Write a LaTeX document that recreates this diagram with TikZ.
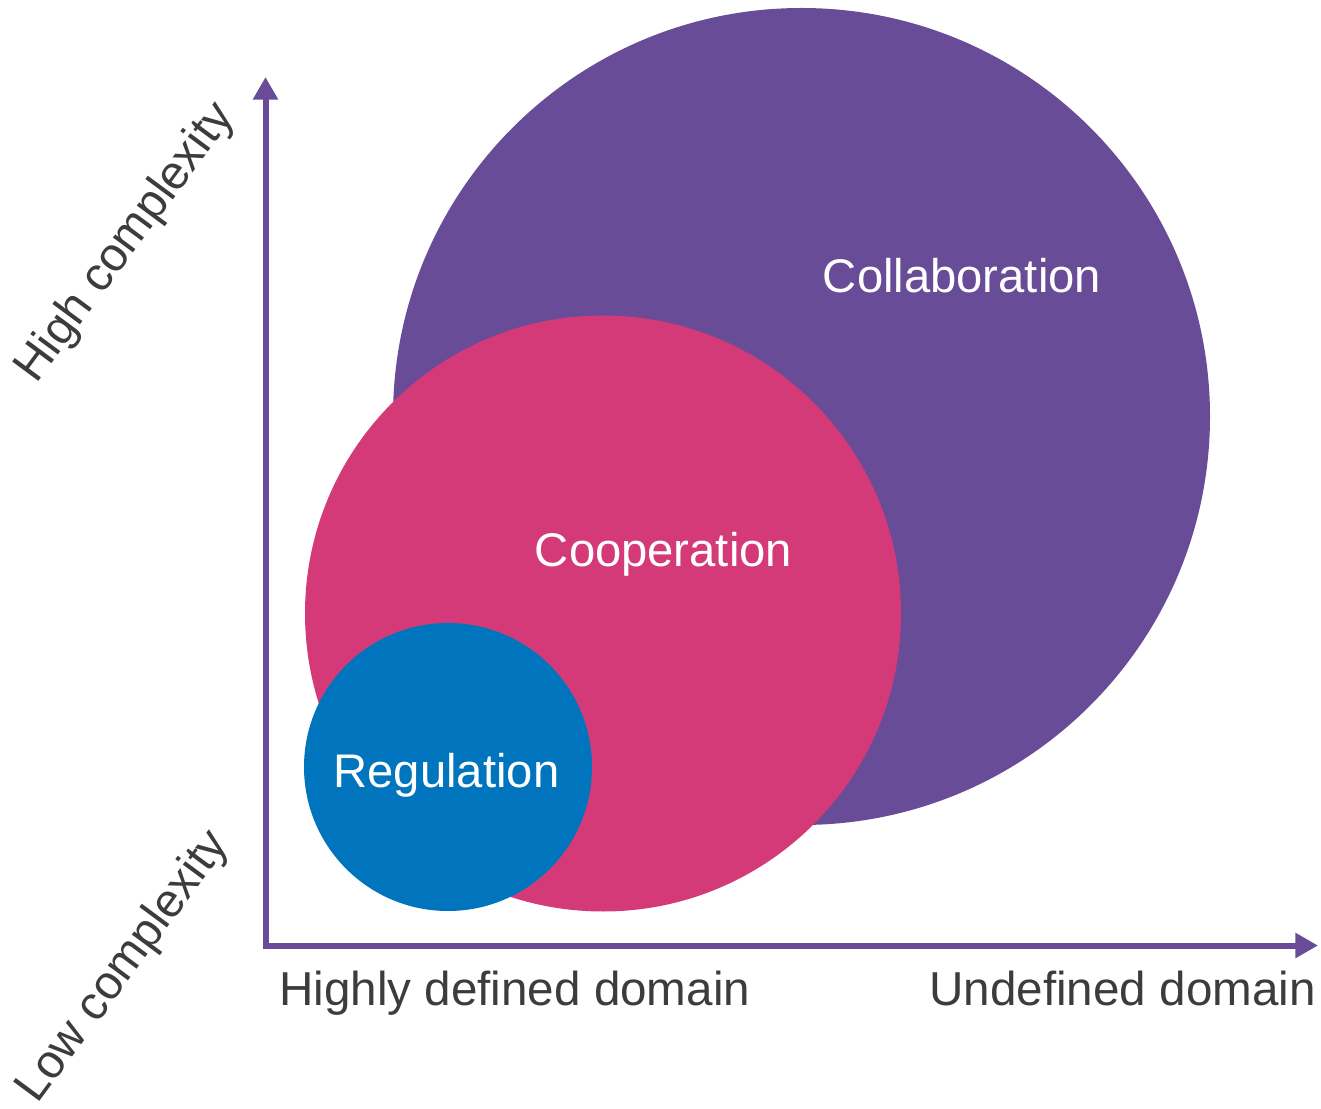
\documentclass[tikz,border=0pt]{standalone}
\usepackage{fontspec}
\setmainfont{Liberation Sans}
\usetikzlibrary{arrows.meta}

\definecolor{collabpurple}{RGB}{105,76,152}
\definecolor{cooppink}{RGB}{212,58,120}
\definecolor{regblue}{RGB}{0,117,189}
\definecolor{labelgray}{RGB}{60,60,60}

\begin{document}
\begin{tikzpicture}[x=0.75pt, y=0.75pt,
        bubble/.style={circle, inner sep=0pt, draw=none},
        bubblelabel/.style={text=white, inner sep=0pt, anchor=base, font=\fontsize{35.4pt}{40pt}\selectfont},
        axislabel/.style={text=labelgray, inner sep=0pt, font=\fontsize{35.7pt}{40pt}\selectfont},
        axisline/.style={collabpurple, line width=4.5pt, line join=miter,
            {Triangle[length=17pt,width=18pt]}-{Triangle[length=17pt,width=18pt]}}]
            % frame
            \useasboundingbox (0,0) rectangle (1321,1108);

            % circles
            \node[bubble, fill=collabpurple, minimum size=612.75pt] (collab) at (801.5,691.5) {};
            \node[bubble, fill=cooppink, minimum size=447pt] (coop) at (603,494.5) {};
            \node[bubble, fill=regblue, minimum size=216pt] (reg) at (448,341) {};

            % circle labels
            \node[bubblelabel] (collabtext) at (962,815) {Collaboration};
            \node[bubblelabel] (cooptext) at (663.5,541) {Cooperation};
            \node[bubblelabel] (regtext) at (446.5,321) {Regulation};

            % axis
            \coordinate (origin) at (265.5,162.5);
            \coordinate (ytip) at (265.5,1031);
            \coordinate (xtip) at (1318,162.5);
            \draw[axisline] (ytip) -- (origin) -- (xtip);

            % x-axis labels
            \node[axislabel, anchor=base west] (xlow) at (279,103) {Highly defined domain};
            \node[axislabel, anchor=base east] (xhigh) at (1316,103) {Undefined domain};

            % y-axis labels
            \node[axislabel, rotate=53.5, font=\fontsize{35.5pt}{40pt}\selectfont] (yhigh) at (126,865) {High complexity};
            \node[axislabel, rotate=53.5, font=\fontsize{35.5pt}{40pt}\selectfont] (ylow) at (124,141) {Low complexity};
        \end{tikzpicture}
\end{document}
